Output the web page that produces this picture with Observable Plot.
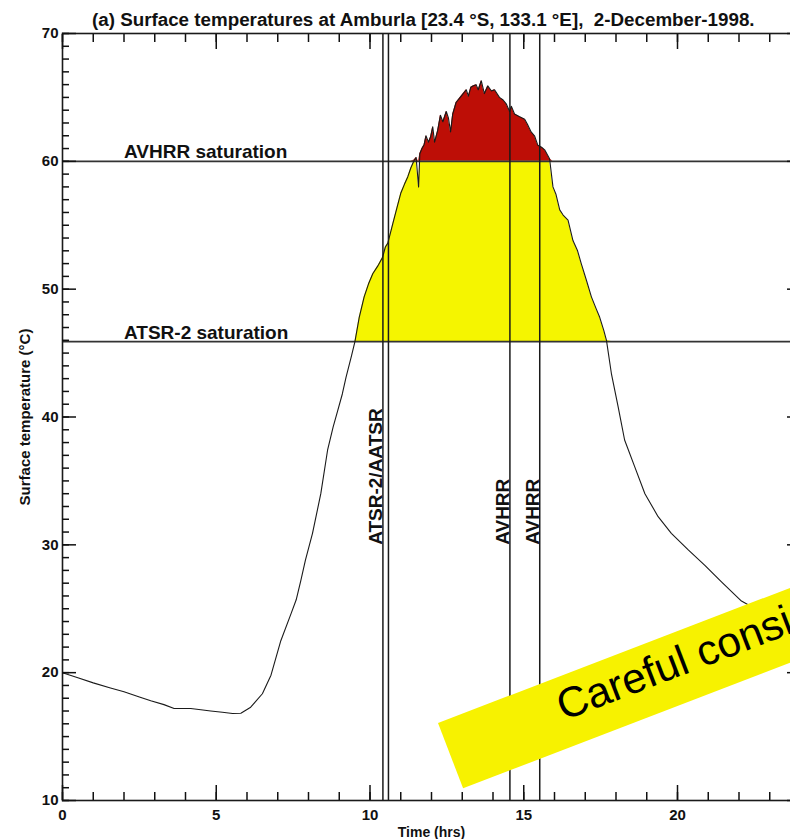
<!DOCTYPE html>
<html>
<head>
<meta charset="utf-8">
<script src="https://cdn.jsdelivr.net/npm/d3@7"></script>
<script src="https://cdn.jsdelivr.net/npm/@observablehq/plot@0.6"></script>
<style>
html, body { margin: 0; padding: 0; background: #fff; overflow: hidden; }
#wrap { position: relative; width: 812px; height: 839px; font-family: "Liberation Sans", Arial, sans-serif; }
#title { position: relative; top: 8px; z-index: 2; height: 24px; line-height: 24px; padding-left: 92px;
  text-align: left; font-weight: bold; font-size: 18.8px; color: #111; white-space: pre; }
#banner { position: absolute; left: 438px; top: 723px; width: 540px; height: 70px; background: #f7f200;
  transform: rotate(-21deg); transform-origin: 0 0; z-index: 3; }
#banner span { position: absolute; left: 118px; top: 8px; font-size: 42.5px; line-height: 1; color: #000; white-space: nowrap;
  font-family: "Liberation Sans", Arial, sans-serif; }
</style>
</head>
<body>
<div id="wrap">
  <div id="title">(a) Surface temperatures at Amburla [23.4 °S, 133.1 °E],  2-December-1998.</div>
  <div id="chart"></div>
  <div id="banner"><span>Careful consi</span></div>
</div>
<script>
// ---- data ----
const times = [0.0, 0.5, 1.0, 1.56, 2.0, 2.5, 2.87, 3.3, 3.63, 4.17, 4.5, 4.82, 5.2, 5.53, 5.8, 6.12, 6.5, 6.78,
  7.1, 7.43, 7.6, 7.75, 7.9, 8.13, 8.4, 8.62, 8.8, 8.95, 9.1, 9.22, 9.4, 9.51, 9.65, 9.81, 9.95, 10.09, 10.25, 10.41,
  10.5, 10.58, 10.74, 10.88, 11.0, 11.12, 11.23, 11.33, 11.44, 11.5, 11.58, 11.62, 11.69, 11.76, 11.82, 11.9, 11.97,
  12.04, 12.1, 12.2, 12.29, 12.37, 12.48, 12.55, 12.62, 12.69, 12.8, 12.9, 13.0, 13.13, 13.2, 13.28, 13.35, 13.45,
  13.52, 13.62, 13.72, 13.83, 13.95, 14.05, 14.21, 14.33, 14.43, 14.54, 14.6, 14.7, 14.85, 15.03, 15.12, 15.24, 15.35,
  15.46, 15.58, 15.68, 15.84, 15.95, 16.05, 16.17, 16.28, 16.44, 16.6, 16.75, 16.87, 17.05, 17.2, 17.35, 17.47, 17.6,
  17.69, 17.85, 18.07, 18.28, 18.61, 18.94, 19.37, 19.8, 20.35, 20.89, 21.43, 22.08, 22.6, 23.0, 23.5, 24.0];
const temps = [20.0, 19.6, 19.2, 18.8, 18.5, 18.1, 17.8, 17.5, 17.2, 17.2, 17.1, 17.0, 16.9, 16.8, 16.83, 17.3, 18.35, 19.8,
  22.5, 24.6, 25.7, 27.2, 28.8, 30.9, 34.0, 37.4, 39.2, 40.5, 41.8, 43.1, 44.8, 45.9, 47.8, 49.4, 50.4, 51.2, 51.8, 52.5,
  53.3, 53.6, 55.1, 56.4, 57.5, 58.2, 58.8, 59.5, 60.1, 60.3, 58.0, 60.6, 61.0, 61.3, 62.0, 61.5, 61.9,
  62.7, 61.5, 62.4, 63.6, 63.1, 63.9, 63.4, 62.3, 63.7, 64.6, 64.9, 65.2, 65.6, 65.1, 65.8, 65.9, 66.0,
  65.6, 66.3, 65.3, 65.9, 65.5, 65.6, 65.0, 64.8, 64.5, 63.9, 64.3, 63.7, 63.5, 63.3, 62.9, 62.3, 62.0,
  61.25, 61.1, 60.9, 60.2, 58.0, 57.4, 56.2, 55.8, 55.4, 53.8, 53.0, 52.0, 50.6, 49.4, 48.5, 47.8, 46.8,
  46.0, 43.4, 40.8, 38.2, 36.1, 34.0, 32.2, 30.9, 29.6, 28.4, 27.1, 25.6, 24.9, 24.3, 23.7, 23.2];

const satLevels = [60, 45.9];
const satLabels = ["AVHRR saturation", "ATSR-2 saturation"];
const sensorTimes = [10.42, 10.6, 14.55, 15.52];
const sensorNames = ["ATSR-2/AATSR", "", "AVHRR", "AVHRR"];
const xMajorTicks = [0, 5, 10, 15, 20];
const xMinorTicks = d3.range(0, 25, 1);
const yMajorTicks = [10, 20, 30, 40, 50, 60, 70];
const yMinorTicks = d3.range(10, 71, 1);

const data = times.map((t, i) => ({time: t, temp: temps[i]}));
const sats = satLevels.map((v, i) => ({value: v, label: satLabels[i]}));
const sensors = sensorTimes.map((t, i) => ({time: t, name: sensorNames[i]}));
const hi = satLevels[0], lo = satLevels[1];

const blank = () => "";
const ink = "#1a1a1a";

const chart = Plot.plot({
  width: 812,
  height: 815,
  marginLeft: 62,
  marginRight: 12,
  marginTop: 9,
  marginBottom: 39,
  x: {domain: [0, 24]},
  y: {domain: [10, 70]},
  style: {background: "none", maxWidth: "none", fontFamily: "'Liberation Sans', Arial, sans-serif", fontWeight: "bold", color: "#111", overflow: "visible"},
  marks: [
    Plot.areaY(data, {x: "time", y1: lo, y2: d => Math.max(lo, Math.min(d.temp, hi)), fill: "#f5f500"}),
    Plot.areaY(data, {x: "time", y1: hi, y2: d => Math.max(d.temp, hi), fill: "#bd0e06"}),
    Plot.ruleY(sats, {y: "value", stroke: "#333", strokeWidth: 1.7}),
    Plot.ruleX(sensors, {x: "time", stroke: ink, strokeWidth: 1.5}),
    Plot.line(data, {x: "time", y: "temp", stroke: ink, strokeWidth: 1.1}),
    Plot.text(sats, {x: 2, y: "value", text: "label", textAnchor: "start", lineAnchor: "bottom", dy: -3,
      fontSize: 19, fontWeight: "bold", fill: "#111"}),
    Plot.text(sensors.filter(d => d.name), {x: "time", y: 30, text: "name", rotate: -90, textAnchor: "start",
      lineAnchor: "bottom", dx: -1, fontSize: 19, fontWeight: "bold", fill: "#111"}),
    Plot.frame({stroke: ink, strokeWidth: 1.6}),
    Plot.axisX(xMajorTicks, {anchor: "bottom", tickSize: -15, tickPadding: 24, fontSize: 15, fontWeight: "bold",
      strokeWidth: 1.5, label: null}),
    Plot.axisX({anchor: "bottom", ticks: [], label: "Time (hrs)", labelAnchor: "center", labelOffset: 36,
      labelArrow: "none", fontSize: 14, fontWeight: "bold"}),
    Plot.axisX(xMinorTicks, {anchor: "bottom", tickSize: -8, tickFormat: blank, strokeWidth: 1.5, label: null}),
    Plot.axisX(xMajorTicks, {anchor: "top", tickSize: -15, tickFormat: blank, strokeWidth: 1.5, label: null}),
    Plot.axisX(xMinorTicks, {anchor: "top", tickSize: -8, tickFormat: blank, strokeWidth: 1.5, label: null}),
    Plot.axisY(yMajorTicks, {anchor: "left", tickSize: -14, tickPadding: 18, fontSize: 15, fontWeight: "bold",
      strokeWidth: 1.5, label: null}),
    Plot.axisY({anchor: "left", ticks: [], label: "Surface temperature (°C)", labelAnchor: "center", labelOffset: 43,
      labelArrow: "none", fontSize: 15, fontWeight: "bold"}),
    Plot.axisY(yMinorTicks, {anchor: "left", tickSize: -7, tickFormat: blank, strokeWidth: 1.5, label: null}),
    Plot.axisY(yMajorTicks, {anchor: "right", tickSize: -14, tickFormat: blank, strokeWidth: 1.5, label: null}),
    Plot.axisY(yMinorTicks, {anchor: "right", tickSize: -7, tickFormat: blank, strokeWidth: 1.5, label: null})
  ]
});
document.getElementById("chart").appendChild(chart);
</script>
</body>
</html>
